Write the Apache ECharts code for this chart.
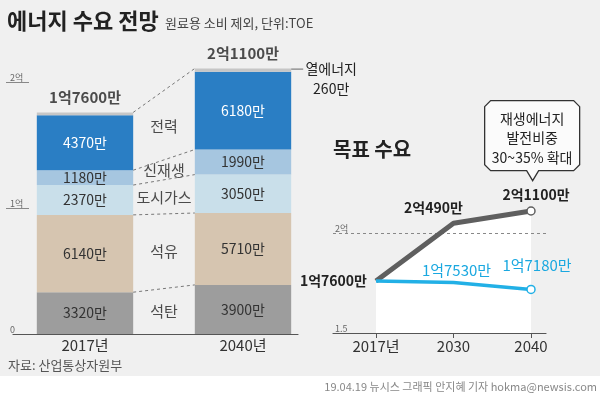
<!DOCTYPE html>
<html>
<head>
<meta charset="utf-8">
<script src="https://cdn.jsdelivr.net/npm/echarts@6/dist/echarts.min.js"></script>
<style>
html,body{margin:0;padding:0;background:#f0f0f0;}
#chart{width:600px;height:396px;}
</style>
</head>
<body>
<div id="chart"></div>
<script>
// 연료별 수요 (만 TOE)
var years = ['2017년', '2040년'];
var sources = ['석탄', '석유', '도시가스', '신재생', '전력', '열에너지'];
var demand2017 = [3320, 6140, 2370, 1180, 4370, 220];
var demand2040 = [3900, 5710, 3050, 1990, 6180, 260];
var totalLabels = ['1억7600만', '2억1100만'];
var barTicks = [0, 10000, 20000];
var barTickLabels = ['0', '1억', '2억'];

// 목표 수요
var targetYears = ['2017년', '2030', '2040'];
var baseDemand = [17600, 20490, 21100];
var targetDemand = [17600, 17530, 17180];
var baseLabels = ['1억7600만', '2억490만', '2억1100만'];
var targetLabels = ['', '1억7530만', '1억7180만'];
var lineTicks = [15000, 20000];
var lineTickLabels = ['1.5', '2억'];

var colors = ['#9d9d9d', '#d6c5b0', '#c9dfea', '#a6c6e0', '#2a7ec4', '#c6c6c6'];
var NF = "'Liberation Sans Narrow','Noto Sans CJK KR',sans-serif";
var KF = "'Noto Sans CJK KR',sans-serif";

var myChart = echarts.init(document.getElementById('chart'));

// 누적값
function cumulative(arr){
	var out = [0], s = 0;
	for(var i=0; i<arr.length; i++){
		s += arr[i];
		out.push(s);
	}
	return out;
}
var cum2017 = cumulative(demand2017);
var cum2040 = cumulative(demand2040);
var halfBar = 0.305;

var series = [];
for(var i=0; i<sources.length; i++){
	var isHeat = i == sources.length-1;
	series.push({
		name: sources[i],
		type: 'bar',
		stack: 'total',
		xAxisIndex: 0,
		yAxisIndex: 0,
		barWidth: '61%',
		itemStyle: {color: colors[i]},
		label: {
			show: !isHeat,
			position: 'inside',
			fontFamily: NF,
			fontSize: 14,
			color: i == 4 ? '#fff' : '#333',
			formatter: '{c}만'
		},
		data: isHeat ? [
			{value: demand2017[i]},
			{value: demand2040[i], label: {
				show: true,
				position: 'right',
				distance: 0,
				offset: [0, 9],
				formatter: '{l|}{a|' + sources[i] + '}\n{s|}{a|' + demand2040[i] + '만}',
				rich: {
					l: {width: 12, height: 1, backgroundColor: '#666'},
					s: {width: 12},
					a: {width: 56, align: 'center', fontFamily: NF, fontSize: 14, color: '#222', lineHeight: 20}
				}
			}}
		] : [demand2017[i], demand2040[i]]
	});
}

// 합계 라벨
series.push({
	type: 'scatter',
	xAxisIndex: 0,
	yAxisIndex: 0,
	symbolSize: 0,
	silent: true,
	label: {
		show: true,
		position: 'top',
		distance: 8,
		fontFamily: NF,
		fontSize: 15,
		fontWeight: 'bold',
		color: '#222',
		formatter: function(p){ return totalLabels[p.dataIndex]; }
	},
	data: [cum2017[cum2017.length-1], cum2040[cum2040.length-1]]
});

// 연결 점선
[1, 2, 3, 4, 6].forEach(function(k){
	series.push({
		type: 'line',
		xAxisIndex: 1,
		yAxisIndex: 0,
		symbol: 'none',
		silent: true,
		lineStyle: {color: '#777', width: 1, type: [3, 3]},
		data: [[halfBar, cum2017[k]], [1-halfBar, cum2040[k]]]
	});
});

// 연료 이름
series.push({
	type: 'scatter',
	xAxisIndex: 1,
	yAxisIndex: 0,
	symbolSize: 0,
	silent: true,
	label: {
		show: true,
		position: 'inside',
		fontFamily: KF,
		fontSize: 15,
		color: '#222',
		formatter: '{b}'
	},
	data: sources.slice(0, 5).map(function(name, i){
		var m1 = (cum2017[i] + cum2017[i+1]) / 2;
		var m2 = (cum2040[i] + cum2040[i+1]) / 2;
		return {name: name, value: [0.5, (m1 + m2) / 2]};
	})
});

// 목표 수요 라인
function endSymbol(v, p){ return p.dataIndex == 2 ? 8 : 0; }
series.push({
	type: 'line',
	xAxisIndex: 3,
	yAxisIndex: 2,
	symbol: 'none',
	silent: true,
	z: -1,
	lineStyle: {width: 0},
	areaStyle: {color: '#fff', opacity: 1, origin: 'start'},
	data: baseDemand
});
series.push({
	type: 'line',
	xAxisIndex: 3,
	yAxisIndex: 2,
	symbol: 'circle',
	symbolSize: endSymbol,
	itemStyle: {color: '#fff', borderColor: '#5f5f5f', borderWidth: 1.5},
	lineStyle: {color: '#5f5f5f', width: 5},
	label: {
		show: true,
		fontFamily: NF,
		fontSize: 14,
		fontWeight: 'bold',
		color: '#222',
		formatter: function(p){ return baseLabels[p.dataIndex]; }
	},
	data: baseDemand.map(function(v, i){
		var lb = [
			{position: 'left', distance: 9},
			{position: 'top', distance: 5, offset: [-20, -4]},
			{position: 'top', distance: 5, offset: [5, 0]}
		][i];
		return {value: v, label: lb};
	})
});
series.push({
	type: 'line',
	xAxisIndex: 3,
	yAxisIndex: 2,
	symbol: 'circle',
	symbolSize: endSymbol,
	itemStyle: {color: '#fff', borderColor: '#22b0e6', borderWidth: 1.5},
	lineStyle: {color: '#22b0e6', width: 3.5},
	label: {
		show: true,
		fontFamily: NF,
		fontSize: 15,
		color: '#1aa8e0',
		formatter: function(p){ return targetLabels[p.dataIndex]; }
	},
	data: targetDemand.map(function(v, i){
		var lb = [
			{show: false},
			{position: 'top', distance: 5, offset: [3, 0]},
			{position: 'top', distance: 5, offset: [6, -7]}
		][i];
		return {value: v, label: lb};
	})
});

var hidden = {show: false};

var option = {
	backgroundColor: '#f0f0f0',
	animation: false,
	title: [{
		text: '에너지 수요 전망',
		left: 7,
		top: 10,
		padding: 0,
		textStyle: {fontFamily: KF, fontSize: 22, fontWeight: 'bold', color: '#222'}
	},{
		text: '원료용 소비 제외, 단위:TOE',
		left: 165,
		top: 17,
		padding: 0,
		textStyle: {fontFamily: KF, fontSize: 13, fontWeight: 'normal', color: '#444'}
	},{
		text: '목표 수요',
		left: 333,
		top: 139,
		padding: 0,
		textStyle: {fontFamily: KF, fontSize: 20, fontWeight: 'bold', color: '#222'}
	},{
		text: '자료: 산업통상자원부',
		left: 8,
		top: 359,
		padding: 0,
		textStyle: {fontFamily: KF, fontSize: 13, fontWeight: 'normal', color: '#555'}
	},{
		text: '19.04.19 뉴시스 그래픽 안지혜 기자 hokma@newsis.com',
		right: 3,
		top: 381,
		padding: 0,
		textStyle: {fontFamily: KF, fontSize: 11, fontWeight: 'normal', color: '#888'}
	}],
	grid: [
		{left: 6, right: 278, top: 57, bottom: 62, outerBoundsMode: 'none'},
		{left: 13, right: 302, top: 57, bottom: 62, outerBoundsMode: 'none'},
		{left: 376, right: 69, top: 193, bottom: 63, outerBoundsMode: 'none'},
		{left: 333, right: 54, top: 233, bottom: 63, outerBoundsMode: 'none'}
	],
	xAxis: [{
		gridIndex: 0,
		type: 'category',
		data: years,
		axisLine: hidden,
		axisTick: hidden,
		axisLabel: {margin: 4, fontFamily: NF, fontSize: 15, color: '#333'}
	},{
		gridIndex: 0,
		type: 'value',
		min: -0.5,
		max: 1.5,
		show: false
	},{
		gridIndex: 1,
		type: 'value',
		axisLine: {show: true, onZero: false, lineStyle: {color: '#555', width: 1.2}},
		axisTick: hidden,
		axisLabel: hidden,
		splitLine: hidden
	},{
		gridIndex: 2,
		type: 'category',
		boundaryGap: false,
		data: targetYears,
		axisLine: hidden,
		axisTick: {show: true, length: 5, lineStyle: {color: '#555'}},
		axisLabel: {margin: 6, fontFamily: NF, fontSize: 15, color: '#333'}
	},{
		gridIndex: 3,
		type: 'value',
		axisLine: {show: true, onZero: false, lineStyle: {color: '#555', width: 1.2}},
		axisTick: hidden,
		axisLabel: hidden,
		splitLine: hidden
	}],
	yAxis: [{
		gridIndex: 0,
		type: 'value',
		min: 0,
		max: 22000,
		axisLine: {show: false, onZero: false},
		axisTick: {show: true, inside: true, length: 23, customValues: barTicks.slice(1), lineStyle: {color: '#888'}},
		axisLabel: {
			inside: true,
			margin: 4,
			verticalAlign: 'bottom',
			customValues: barTicks,
			fontFamily: KF,
			fontSize: 9,
			color: '#666',
			formatter: function(v){ return barTickLabels[barTicks.indexOf(v)]; }
		},
		splitLine: hidden
	},{
		gridIndex: 1,
		type: 'value',
		show: false
	},{
		gridIndex: 2,
		type: 'value',
		min: 15000,
		max: 22000,
		show: false
	},{
		gridIndex: 3,
		type: 'value',
		min: 15000,
		max: 20000,
		interval: 5000,
		axisLine: hidden,
		axisTick: hidden,
		axisLabel: {
			inside: true,
			margin: 2,
			verticalAlign: 'bottom',
			fontFamily: KF,
			fontSize: 9,
			color: '#666',
			formatter: function(v){ return lineTickLabels[lineTicks.indexOf(v)]; }
		},
		splitLine: {show: true, showMinLine: false, lineStyle: {color: '#888', type: [3, 3]}}
	}],
	graphic: [{
		type: 'rect',
		z: -10,
		silent: true,
		shape: {x: 0, y: 376, width: 600, height: 20},
		style: {fill: '#fff'}
	},{
		type: 'group',
		left: 484,
		top: 100,
		children: [{
			type: 'polygon',
			shape: {points: [[0, 6], [6, 0], [89, 0], [95, 6], [95, 64], [89, 70], [54, 70], [48, 80], [42, 70], [6, 70], [0, 64]]},
			style: {fill: '#fbfbfb', stroke: '#333', lineWidth: 1.3}
		},{
			type: 'text',
			x: 47.5,
			y: 8,
			style: {
				text: '재생에너지\n발전비중\n30~35% 확대',
				align: 'center',
				lineHeight: 19.5,
				font: '14px ' + NF,
				fill: '#222'
			}
		}]
	}],
	series: series
};
myChart.setOption(option);
window.onresize = function(){
	myChart.resize();
};
</script>
</body>
</html>
